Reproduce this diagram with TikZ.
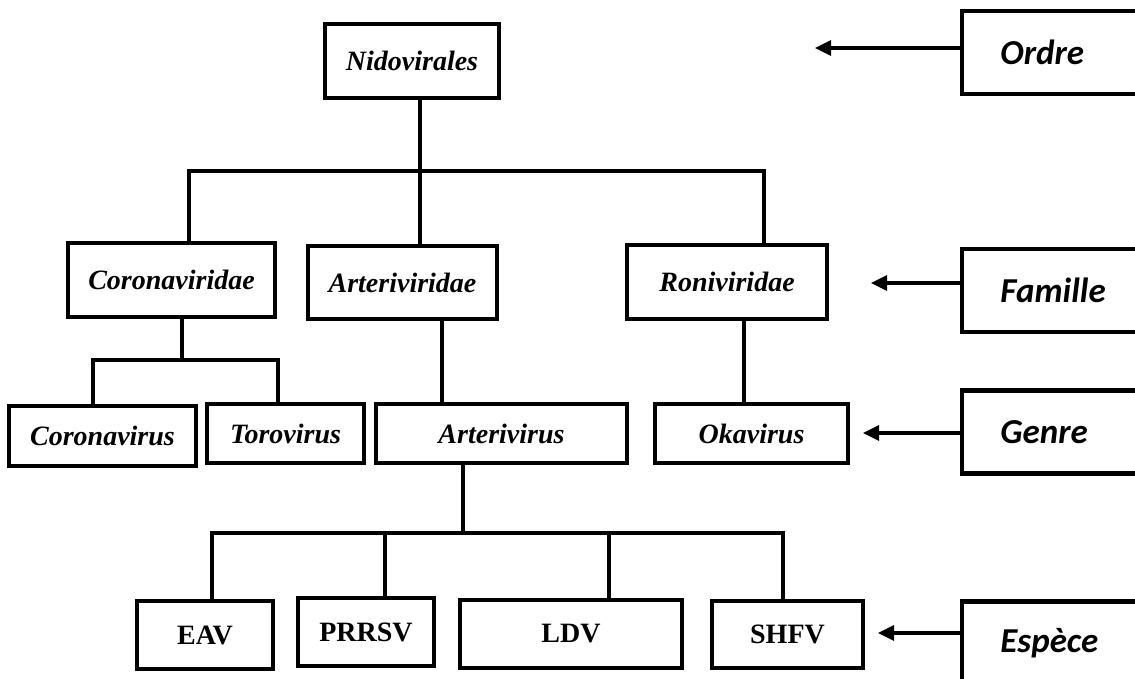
\documentclass[tikz,border=0pt]{standalone}
\usepackage{fontspec}
\setmainfont{Liberation Serif}
\newfontfamily\calib{Carlito}
\usetikzlibrary{arrows.meta}
\begin{document}
\begin{tikzpicture}[x=0.5pt, y=-0.5pt,
    taxon/.style={draw, line width=2pt, inner sep=0pt,
      font=\bfseries\itshape\fontsize{14}{16}\selectfont},
    virus/.style={taxon, font=\bfseries\fontsize{14}{16}\selectfont},
    rank/.style={anchor=west, inner xsep=19pt,
      text width=130pt, align=left, minimum height=41pt,
      font=\calib\bfseries\itshape\fontsize{17.5}{20}\selectfont},
    open/.style={line width=2.2pt, line join=miter},
    link/.style={line width=2pt},
    arr/.style={line width=1.6pt, -{Triangle[length=8pt,width=7.5pt]}}]
  \useasboundingbox (0,0) rectangle (1135,679);
  \clip (0,0) rectangle (1135,679);

  % tree
  \node[taxon, minimum width=87pt, minimum height=37pt] (nido) at (412,61) {Nidovirales};
  \node[taxon, minimum width=103.5pt, minimum height=37pt] (corona) at (171.5,280) {Coronaviridae};
  \node[taxon, minimum width=94.5pt, minimum height=36.5pt] (arteri) at (402.5,282.5) {Arteriviridae};
  \node[taxon, minimum width=100pt, minimum height=37pt] (roni) at (727,282) {Roniviridae};

  \node[taxon, minimum width=93.5pt, minimum height=30pt] (coronavirus) at (102.5,436) {Coronavirus};
  \node[taxon, minimum width=78.5pt, minimum height=29.5pt] (torovirus) at (285.5,433.5) {Torovirus};
  \node[taxon, minimum width=125.5pt, minimum height=29.5pt] (arterivirus) at (501.5,433.5) {Arterivirus};
  \node[taxon, minimum width=96.5pt, minimum height=29.5pt] (okavirus) at (751.5,433.5) {Okavirus};

  \node[virus, minimum width=68pt, minimum height=34pt] (eav) at (205,635) {EAV};
  \node[virus, minimum width=68pt, minimum height=34pt] (prrsv) at (366,632) {PRRSV};
  \node[virus, minimum width=111pt, minimum height=34pt] (ldv) at (571,634) {LDV};
  \node[virus, minimum width=75.5pt, minimum height=33.5pt] (shfv) at (787.5,634.5) {SHFV};

  \draw[link] (nido.south -| 420,0) -- (arteri.north -| 420,0);
  \draw[link] (corona.north -| 189,0) -- (189,171) -- (764,171) -- (roni.north -| 764,0);

  \draw[link] (corona.south -| 182,0) -- (182,360);
  \draw[link] (coronavirus.north -| 93,0) -- (93,360) -- (278,360) -- (torovirus.north -| 278,0);
  \draw[link] (arteri.south -| 442,0) -- (arterivirus.north -| 442,0);
  \draw[link] (roni.south -| 744,0) -- (okavirus.north -| 744,0);

  \draw[link] (arterivirus.south -| 463,0) -- (463,533);
  \draw[link] (eav.north -| 212,0) -- (212,533) -- (783,533) -- (shfv.north -| 783,0);
  \draw[link] (prrsv.north -| 385,0) -- (385,533);
  \draw[link] (ldv.north -| 609,0) -- (609,533);

  % ranks, boxes run off the right edge
  \node[rank] (ordre) at (962,52.5) {Ordre};
  \node[rank] (famille) at (962,290.5) {Famille};
  \node[rank] (genre) at (962,432) {Genre};
  \node[rank] (espece) at (962,643) {Espèce};
  \foreach \r in {ordre,famille,genre,espece}
    \draw[open] (\r.north east) -- (\r.north west) -- (\r.south west) -- (\r.south east);

  \coordinate (tordre) at (815,48);
  \coordinate (tfamille) at (871,283);
  \coordinate (tgenre) at (863,433);
  \coordinate (tespece) at (878,633);
  \draw[arr] (ordre.west |- tordre) -- (tordre);
  \draw[arr] (famille.west |- tfamille) -- (tfamille);
  \draw[arr] (genre.west |- tgenre) -- (tgenre);
  \draw[arr] (espece.west |- tespece) -- (tespece);
\end{tikzpicture}
\end{document}
